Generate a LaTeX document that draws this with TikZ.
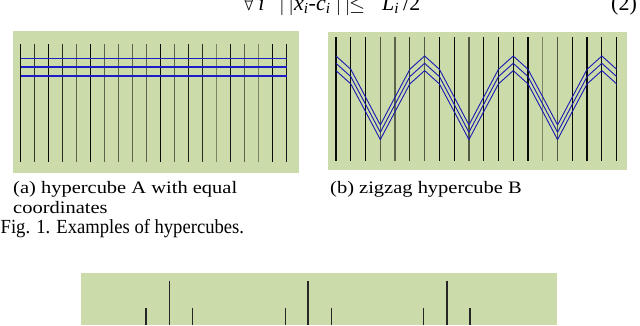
\documentclass[tikz,border=0pt]{standalone}
\usepackage{fontspec}
\setmainfont{Liberation Serif}
\newfontfamily\wideserif[FakeStretch=1.17]{Liberation Serif}
\newfontfamily\narrowserif[FakeStretch=0.93]{Liberation Serif}
\usepackage{xcolor}
\definecolor{hcgreen}{RGB}{204,219,170}
\definecolor{hcblue}{RGB}{28,28,200}
\usepackage{tikz}
\tikzset{
  panel/.style={fill=hcgreen,draw=none},
  cut/.style={line width=1.2pt},
  band/.style={draw=hcblue,line width=1.4pt},
  zig/.style={draw=hcblue!90!black,line width=0.9pt,line join=round},
  tick/.style={draw=black!85,line width=1.1pt},
  caption/.style={font=\wideserif\fontsize{17.5}{20}\selectfont,inner sep=0pt},
  figcap/.style={font=\narrowserif\fontsize{20}{22}\selectfont,inner sep=0pt},
  eqn/.style={font=\fontsize{22}{24}\selectfont,inner sep=0pt,anchor=base west},
}

\begin{document}
\begin{tikzpicture}[x=1pt,y=-1pt]
\useasboundingbox (0,0) rectangle (640,325);

% equation line, cut at the top
\node[eqn] (eqall) at (243,10) {$\forall$\,\textit{i}};
\node[eqn] (eqnorm) at (279,10) {$|\,|$\textit{x}\textsubscript{\textit{i}}-\textit{c}\textsubscript{\textit{i}}\hspace{5pt}$|\,|$};
\node[eqn] (eqle) at (349,10) {$\leq$};
\node[eqn] (eqhalf) at (382,10) {\textit{L}\textsubscript{\textit{i}}\hspace{4pt}/2};
\node[eqn] (eqnum) at (611,10) {(2)};

% (a) hypercube A
\fill[panel] (13,31) rectangle (299,173);
\foreach \s [count=\k from 0] in {95,75,95,80,55,95,55,55,55,55,95,55,85,80,40,90,55,40,95,90}
  \draw[cut,black!\s!hcgreen] ({20.7+14*\k},44) -- ({20.7+14*\k},162);
\foreach \y in {58.3,67,76}
  \draw[band] (20.7,\y) -- (287,\y);

% (b) zigzag hypercube B
\fill[panel] (328,32) rectangle (627,170);
\foreach \s [count=\k from 0] in {95,95,95,60,55,75,60,95,95,60,95,95,95,95,40,60,95,95,95,95}
  \draw[cut,black!\s!hcgreen] ({336+14.77*\k},37) -- ({336+14.77*\k},161);
\foreach \d in {0,7.3,14.6}
  \draw[zig] (336,56+\d)
    \foreach \y [count=\k] in {69.3,97,125,97,69.3,56,69.3,97,125,97,69.3,56,69.3,97,125,97,69.3,56,69.3}
      { -- ({336+14.77*\k},{\y+\d}) };

% captions
\node[caption,anchor=base west] (capa) at (13,193) {(a) hypercube A with equal};
\node[caption,anchor=base west] (capa2) at ([yshift=-20pt]capa.base west) {coordinates};
\node[caption,anchor=base west] (capb) at (330,193) {(b) zigzag hypercube B};
\node[figcap,anchor=base west] (fig) at (0.5,233) {Fig. 1. Examples of hypercubes.};

% next figure, cut at the bottom
\fill[panel] (80.7,273.3) rectangle (557.3,325);
\foreach \x in {169.3,308,447}
  \draw[tick] (\x,280.7) -- (\x,325);
\foreach \x in {146,192.3,285.3,331.7,423.3,470}
  \draw[tick] (\x,307.7) -- (\x,325);
\end{tikzpicture}
\end{document}
